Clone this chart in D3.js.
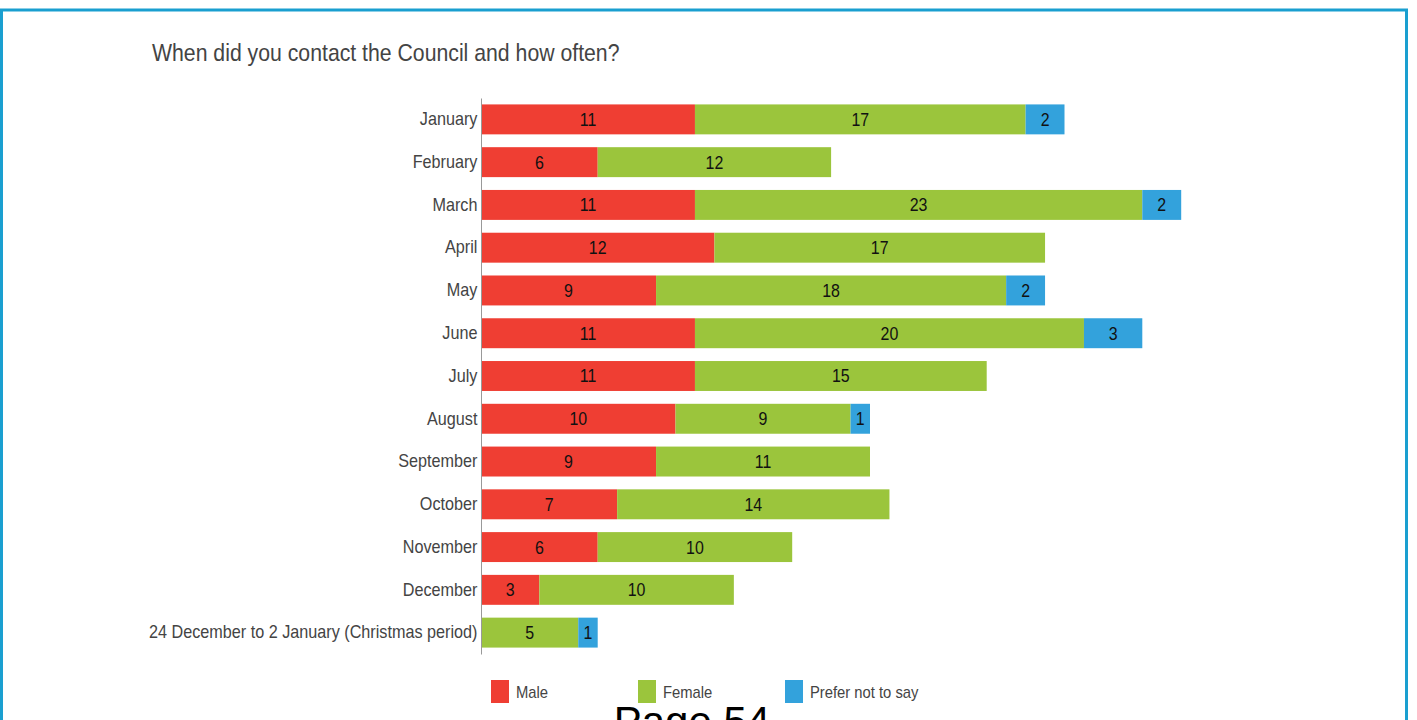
<!DOCTYPE html>
<html>
<head>
<meta charset="utf-8">
<script src="https://cdn.jsdelivr.net/npm/d3@7"></script>
<style>
  body { margin: 0; background: #fff; }
  svg { display: block; }
  text { font-family: "Liberation Sans", Arial, sans-serif; }
</style>
</head>
<body>
<div id="chart"></div>
<script>
const months = ['January', 'February', 'March', 'April', 'May', 'June', 'July', 'August',
  'September', 'October', 'November', 'December', '24 December to 2 January (Christmas period)'];
const male = [11, 6, 11, 12, 9, 11, 11, 10, 9, 7, 6, 3, 0];
const female = [17, 12, 23, 17, 18, 20, 15, 9, 11, 14, 10, 10, 5];
const preferNot = [2, 0, 2, 0, 2, 3, 0, 1, 0, 0, 0, 0, 1];
const seriesNames = ['Male', 'Female', 'Prefer not to say'];
const colors = ['#ef3e33', '#9bc53c', '#33a2dc'];

const W = 1417, H = 720;
const margin = {left: 481, top: 98, bottom: 66};
// the source font is a narrow sans, squeeze a regular one to match
const narrow = 0.885;

const svg = d3.select('#chart').append('svg')
  .attr('width', W)
  .attr('height', H);

// page frame
svg.append('rect')
  .attr('x', 1.5).attr('y', 10)
  .attr('width', 1405).attr('height', H + 10)
  .attr('fill', 'none')
  .attr('stroke', '#1a9fd0')
  .attr('stroke-width', 3);

svg.append('text')
  .attr('transform', `translate(152,61) scale(${narrow},1)`)
  .attr('font-size', 24)
  .attr('fill', '#444')
  .text('When did you contact the Council and how often?');

const rows = months.map((m, i) => ({month: m, vals: [male[i], female[i], preferNot[i]]}));
const stack = d3.stack().keys([0, 1, 2]).value((d, k) => d.vals[k])(rows);

const x = d3.scaleLinear()
  .domain([0, 36])
  .range([margin.left, margin.left + 36 * 19.45]);

const y = d3.scaleBand()
  .domain(months)
  .range([margin.top, H - margin.bottom])
  .paddingInner(0.3)
  .paddingOuter(0.15);

const layer = svg.selectAll('.layer')
  .data(stack)
  .join('g')
  .attr('fill', (d, i) => colors[i]);

layer.selectAll('rect')
  .data(d => d.filter(s => s[1] > s[0]))
  .join('rect')
  .attr('x', s => x(s[0]))
  .attr('y', s => y(s.data.month))
  .attr('width', s => x(s[1]) - x(s[0]))
  .attr('height', y.bandwidth());

layer.selectAll('text')
  .data(d => d.filter(s => s[1] > s[0]))
  .join('text')
  .attr('transform', s => `translate(${(x(s[0]) + x(s[1])) / 2},${y(s.data.month) + y.bandwidth() / 2}) scale(${narrow},1)`)
  .attr('dy', '0.36em')
  .attr('text-anchor', 'middle')
  .attr('font-size', 18)
  .attr('fill', '#111')
  .text(s => s[1] - s[0]);

// category axis
const axis = svg.append('g')
  .attr('transform', `translate(${margin.left},0)`)
  .call(d3.axisLeft(y).tickSize(0).tickPadding(4));
axis.select('.domain').attr('stroke', '#999');
axis.selectAll('text')
  .attr('transform', 'scale(0.9,1)')
  .attr('font-size', 18)
  .attr('fill', '#444')
  .style('font-family', '"Liberation Sans", Arial, sans-serif');

// legend
const legend = svg.append('g')
  .selectAll('g')
  .data(seriesNames)
  .join('g')
  .attr('transform', (d, i) => `translate(${491 + i * 147},680)`);
legend.append('rect')
  .attr('width', 18).attr('height', 23)
  .attr('fill', (d, i) => colors[i]);
legend.append('text')
  .attr('transform', `translate(25,12) scale(0.87,1)`)
  .attr('dy', '0.36em')
  .attr('font-size', 17)
  .attr('fill', '#444')
  .text(d => d);

svg.append('text')
  .attr('x', 692).attr('y', 736)
  .attr('text-anchor', 'middle')
  .attr('font-size', 42)
  .attr('fill', '#000')
  .text('Page 54');
</script>
</body>
</html>
